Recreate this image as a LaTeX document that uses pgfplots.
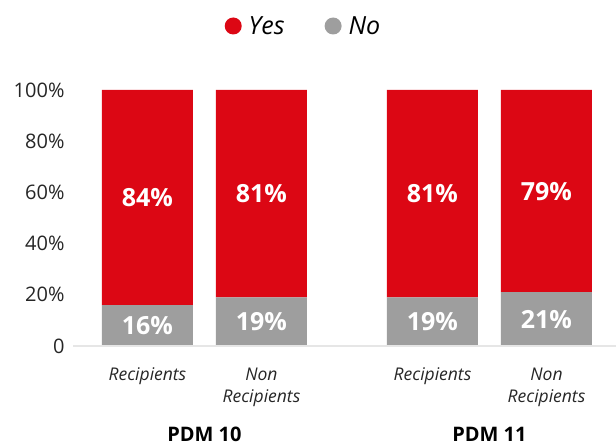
\documentclass[border=0pt]{standalone}
\usepackage{pgfplots}
\pgfplotsset{compat=1.18}
\usepackage{fontspec}
\setmainfont{Open Sans}
\definecolor{yesred}{HTML}{DC0714}
\definecolor{nogray}{HTML}{9E9E9E}
\definecolor{baseln}{HTML}{E6E6E6}
\begin{document}
\begin{tikzpicture}[x=1pt,y=1pt]
\path[use as bounding box] (0,0) rectangle (616,446);
\begin{axis}[
 at={(73pt,100pt)}, anchor=south west,
 scale only axis, width=543pt, height=256pt,
 ybar stacked, bar width=91pt,
 xmin=-0.653, xmax=4.11, ymin=0, ymax=100,
 xtick={0,1,2.5,3.5},
 xticklabels={Recipients, Non\\Recipients, Recipients, Non\\Recipients},
 xticklabel style={align=center, font=\fontsize{17.5}{22}\selectfont\itshape, text=black!85, yshift=-18pt},
 ytick={0,20,40,60,80,100},
 yticklabels={0,20\%,40\%,60\%,80\%,100\%},
 yticklabel style={font=\fontsize{20}{22}\selectfont, text=black!85, xshift=-5pt},
 /pgf/number format/assume math mode=true,
 axis line style={draw=none},
 major tick length=0pt,
 legend columns=2,
 reverse legend,
 legend style={draw=none, fill=none, at={(0.4245,1.25)}, anchor=center,
   font=\fontsize{25}{26}\selectfont\itshape,
   /tikz/every even column/.append style={column sep=38pt}},
 legend image code/.code={\fill[#1] (4pt,0pt) circle (8.5pt); \path (17.5pt,0pt);},
 clip=false,
]
\draw[baseln, line width=1.5pt] (rel axis cs:0,0) -- (rel axis cs:1,0);
\addplot[fill=nogray, draw=none] coordinates {(0,16) (1,19) (2.5,19) (3.5,21)};
\addplot[fill=yesred, draw=none] coordinates {(0,84) (1,81) (2.5,81) (3.5,79)};
\legend{No, Yes}
\node[anchor=base, yshift=-96pt, font=\fontsize{20}{20}\selectfont\bfseries] at (axis cs:0.5,0) {PDM 10};
\node[anchor=base, yshift=-96pt, font=\fontsize{20}{20}\selectfont\bfseries] at (axis cs:3,0) {PDM 11};
\end{axis}
\begin{axis}[
 at={(73pt,100pt)}, anchor=south west,
 scale only axis, width=543pt, height=256pt,
 xmin=-0.653, xmax=4.11, ymin=0, ymax=100,
 hide axis, clip=false,
]
\addplot[only marks, mark=none, nodes near coords, point meta=explicit symbolic,
  nodes near coords style={anchor=center, text=white, font=\fontsize{25}{25}\selectfont\bfseries}]
  coordinates {(0,58)[84\%] (1,59.5)[81\%] (2.5,59.5)[81\%] (3.5,60.5)[79\%]
               (0,8)[16\%] (1,9.5)[19\%] (2.5,9.5)[19\%] (3.5,10.5)[21\%]};
\end{axis}
\end{tikzpicture}
\end{document}
